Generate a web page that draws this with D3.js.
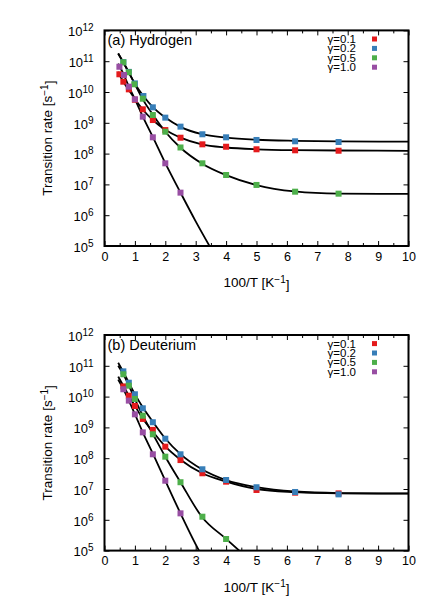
<!DOCTYPE html>
<html><head><meta charset="utf-8">
<script src="https://cdn.jsdelivr.net/npm/d3@7"></script>
<style>
body{margin:0;background:#fff}
svg{display:block}
text{font-family:"Liberation Sans",Arial,Helvetica,sans-serif;fill:#000}
</style>
</head><body>
<svg id="chart" width="436" height="610"></svg>
<script>
// ---------------- DATA ----------------
const gammaLabels = ["γ=0.1", "γ=0.2", "γ=0.5", "γ=1.0"];
const colors = ["#e41a1c", "#377eb8", "#4daf4a", "#984ea3"];
const xTicks = [0,1,2,3,4,5,6,7,8,9,10];
const xMinorTicks = [0.5,1.5,2.5,3.5,4.5,5.5,6.5,7.5,8.5,9.5];
const yTicks = [1e5,1e6,1e7,1e8,1e9,1e10,1e11,1e12];
const panelLabels = ["(a) Hydrogen", "(b) Deuterium"];

// (a) Hydrogen - measured points
const hRedX = [0.49,0.62,0.8,1.0,1.26,1.59,2.0,2.5,3.22,4.0,5.0,6.27,7.7];
const hRedY = [3.76e10,2.16e10,1.22e10,5.6e9,2.74e9,1.23e9,5.8e8,3.28e8,2.0e8,1.67e8,1.38e8,1.28e8,1.24e8];
const hBlueX = [0.62,0.8,1.0,1.28,1.59,2.0,2.5,3.22,4.0,5.0,6.27,7.7];
const hBlueY = [9.3e10,4.5e10,1.9e10,7.4e9,3.18e9,1.47e9,7.5e8,4.24e8,3.38e8,2.77e8,2.51e8,2.38e8];
const hGreenX = [0.62,0.8,0.98,1.26,1.59,2.0,2.5,3.22,4.0,5.0,6.27,7.7];
const hGreenY = [9.2e10,4.37e10,1.78e10,6.05e9,1.79e9,5.14e8,1.58e8,4.84e7,2.02e7,9.6e6,5.8e6,5.0e6];
const hPurpleX = [0.49,0.64,0.8,1.0,1.26,1.59,2.0,2.5];
const hPurpleY = [6.6e10,3.56e10,1.49e10,5.8e9,1.58e9,3.38e8,4.84e7,5.4e6];

// (a) Hydrogen - fitted curves
const hRedFitX = [0.45,0.62,0.8,1.0,1.25,1.6,2.0,2.5,3.2,4,5,6.25,7.7,10];
const hRedFitY = [4.47e10,2.14e10,1.17e10,5.9e9,2.75e9,1.2e9,5.9e8,3.3e8,2.0e8,1.58e8,1.38e8,1.29e8,1.26e8,1.23e8];
const hBlueFitX = [0.45,0.62,0.8,1.0,1.28,1.6,2.0,2.5,3.2,4,5,6.25,7.7,10];
const hBlueFitY = [1.78e11,9.1e10,4.27e10,1.86e10,7.4e9,3.16e9,1.48e9,7.4e8,4.27e8,3.3e8,2.82e8,2.6e8,2.5e8,2.45e8];
const hGreenFitX = [0.45,0.62,0.8,1.0,1.25,1.6,2.0,2.5,3.2,4,5,6.25,7.7,10];
const hGreenFitY = [1.78e11,9.1e10,4.37e10,1.78e10,6.0e9,1.78e9,5.1e8,1.55e8,4.8e7,2.0e7,9.5e6,5.9e6,5.0e6,4.9e6];
const hPurpleFitX = [0.45,0.64,0.8,1.0,1.26,1.6,2.0,2.5,3.0,3.6];
const hPurpleFitY = [8.3e10,3.55e10,1.51e10,5.9e9,1.58e9,3.3e8,4.9e7,5.4e6,6.3e5,5.6e4];

// (b) Deuterium - measured points
const dRedX = [0.62,0.8,1.0,1.26,1.59,2.0,2.5,3.22,4.0,5.0,6.27,7.7];
const dRedY = [2.14e10,1.07e10,4.95e9,1.88e9,8.3e8,2.37e8,8.7e7,3.24e7,1.73e7,9.3e6,7.6e6,7.2e6];
const dBlueX = [0.62,0.8,1.0,1.26,1.59,2.0,2.5,3.22,4.0,5.0,6.27,7.7];
const dBlueY = [6.6e10,2.82e10,1.19e10,4.17e9,1.47e9,4.3e8,1.34e8,4.37e7,1.96e7,1.14e7,8.0e6,6.7e6];
const dGreenX = [0.62,0.8,1.0,1.26,1.59,2.0,2.5,3.22,4.0];
const dGreenY = [5.3e10,2.26e10,8.4e9,2.4e9,5.97e8,1.12e8,1.66e7,1.26e6,2.38e5];
const dPurpleX = [0.62,0.8,1.0,1.26,1.59,2.0,2.5];
const dPurpleY = [1.73e10,7.4e9,2.66e9,6.9e8,1.34e8,1.86e7,1.62e6];

// (b) Deuterium - fitted curves
const dRedFitX = [0.45,0.62,0.8,1.0,1.26,1.6,2.0,2.5,3.2,4,5,6.25,7.7,10];
const dRedFitY = [4.47e10,2.24e10,1.07e10,5.0e9,1.9e9,7.1e8,2.4e8,8.9e7,3.3e7,1.74e7,1.0e7,7.9e6,7.2e6,7.1e6];
const dBlueFitX = [0.45,0.62,0.8,1.0,1.28,1.6,2.0,2.5,3.2,4,5,6.25,7.7,10];
const dBlueFitY = [1.26e11,6.3e10,2.82e10,1.2e10,4.17e9,1.48e9,4.37e8,1.35e8,4.37e7,1.95e7,1.15e7,8.3e6,7.4e6,7.2e6];
const dGreenFitX = [0.45,0.62,0.8,1.0,1.26,1.6,2.0,2.5,3.2,4.0,4.6];
const dGreenFitY = [1.0e11,5.25e10,2.29e10,8.3e9,2.4e9,5.9e8,1.12e8,1.66e7,1.26e6,2.4e5,7.1e4];
const dPurpleFitX = [0.45,0.62,0.8,1.0,1.26,1.6,2.0,2.5,3.11,3.4];
const dPurpleFitY = [3.55e10,1.74e10,7.4e9,2.7e9,6.9e8,1.35e8,1.86e7,1.62e6,1.0e5,3.2e4];

// --------------- BUILD ----------------
const zip = (xs, ys) => xs.map((x, i) => ({x, y: ys[i]}));
const panels = [
  { label: panelLabels[0], top: 30.4, bottom: 246,
    points: [zip(hRedX,hRedY), zip(hBlueX,hBlueY), zip(hGreenX,hGreenY), zip(hPurpleX,hPurpleY)],
    fits: [zip(hRedFitX,hRedFitY), zip(hBlueFitX,hBlueFitY), zip(hGreenFitX,hGreenFitY), zip(hPurpleFitX,hPurpleFitY)] },
  { label: panelLabels[1], top: 335, bottom: 550.6,
    points: [zip(dRedX,dRedY), zip(dBlueX,dBlueY), zip(dGreenX,dGreenY), zip(dPurpleX,dPurpleY)],
    fits: [zip(dRedFitX,dRedFitY), zip(dBlueFitX,dBlueFitY), zip(dGreenFitX,dGreenFitY), zip(dPurpleFitX,dPurpleFitY)] }
];

const svg = d3.select("#chart");
const left = 104.5, right = 408.5;
const x = d3.scaleLinear().domain([0,10]).range([left,right]);

panels.forEach((p, pi) => {
  const y = d3.scaleLog().domain([1e5,1e12]).range([p.bottom, p.top]);
  const g = svg.append("g");
  const clipId = "clip" + pi;
  g.append("clipPath").attr("id", clipId).append("rect")
    .attr("x", left).attr("y", p.top).attr("width", right-left).attr("height", p.bottom-p.top);

  // axes
  const yl = g.append("g").attr("transform", `translate(${left},0)`)
    .call(d3.axisLeft(y).tickValues(yTicks).tickSize(-5).tickPadding(11).tickFormat(""));
  yl.selectAll(".tick text").each(function(d){
    const t = d3.select(this).attr("dy", "0.4em").style("font-size","13px");
    t.append("tspan").text("10");
    t.append("tspan").attr("dy","-0.5em").style("font-size","10px").text(Math.round(Math.log10(d)));
  });
  g.append("g").attr("transform", `translate(${right},0)`)
    .call(d3.axisRight(y).tickValues(yTicks).tickSize(-5).tickFormat(""));
  g.append("g").attr("transform", `translate(0,${p.bottom})`)
    .call(d3.axisBottom(x).tickValues(xTicks).tickSize(-5).tickPadding(6).tickFormat(d3.format("d")))
    .selectAll("text").style("font-size","12.5px");
  g.append("g").attr("transform", `translate(0,${p.bottom})`)
    .call(d3.axisBottom(x).tickValues(xMinorTicks).tickSize(-3).tickFormat(""));
  g.append("g").attr("transform", `translate(0,${p.top})`)
    .call(d3.axisTop(x).tickValues(xTicks).tickSize(-5).tickFormat(""));
  g.append("g").attr("transform", `translate(0,${p.top})`)
    .call(d3.axisTop(x).tickValues(xMinorTicks).tickSize(-3).tickFormat(""));
  g.selectAll(".domain").remove();
  g.selectAll(".tick line").attr("stroke","#000").attr("stroke-width",1);
  g.selectAll(".tick text").attr("fill","#000");

  // fits
  const line = d3.line().x(d => x(d.x)).y(d => y(d.y)).curve(d3.curveMonotoneX);
  g.append("g").attr("clip-path", `url(#${clipId})`)
    .selectAll("path.fit").data(p.fits).join("path")
    .attr("d", line).attr("fill","none").attr("stroke","#000").attr("stroke-width",1.8);

  // points
  const ms = 6;
  p.points.forEach((series, si) => {
    g.append("g").selectAll("rect").data(series).join("rect")
      .attr("x", d => x(d.x) - ms/2).attr("y", d => y(d.y) - ms/2)
      .attr("width", ms).attr("height", ms).attr("fill", colors[si]);
  });

  // frame
  g.append("rect").attr("x", left).attr("y", p.top).attr("width", right-left).attr("height", p.bottom-p.top)
    .attr("fill","none").attr("stroke","#000").attr("stroke-width",2);

  // panel label
  g.append("text").attr("x", left+3).attr("y", p.top+15).style("font-size","14.5px").text(p.label);

  // legend (one text block, one line per gamma)
  const rowH = 9.4, firstRow = p.top + 8.6;
  const lt = g.append("text").attr("text-anchor","end").style("font-size","11.5px");
  gammaLabels.forEach((lab, i) => {
    lt.append("tspan").attr("x", 356).attr("y", firstRow + i*rowH).attr("dy","0.35em").text(lab);
    g.append("rect").attr("x", 374.5-2.5).attr("y", firstRow + i*rowH - 2.5)
      .attr("width",5).attr("height",5).attr("fill",colors[i]);
  });

  // axis titles
  const xt = g.append("text").attr("x", (left+right)/2).attr("y", p.bottom+41)
    .attr("text-anchor","middle").style("font-size","13.5px");
  xt.append("tspan").text("100/T [K");
  xt.append("tspan").attr("dy","-0.45em").style("font-size","10px").text("−1");
  xt.append("tspan").attr("dy","0.45em").text("]");

  const yt = g.append("text")
    .attr("transform", `translate(52,${(p.top+p.bottom)/2}) rotate(-90)`)
    .attr("text-anchor","middle").style("font-size","13.5px");
  yt.append("tspan").text("Transition rate [s");
  yt.append("tspan").attr("dy","-0.45em").style("font-size","10px").text("−1");
  yt.append("tspan").attr("dy","0.45em").text("]");
});
</script>
</body></html>
